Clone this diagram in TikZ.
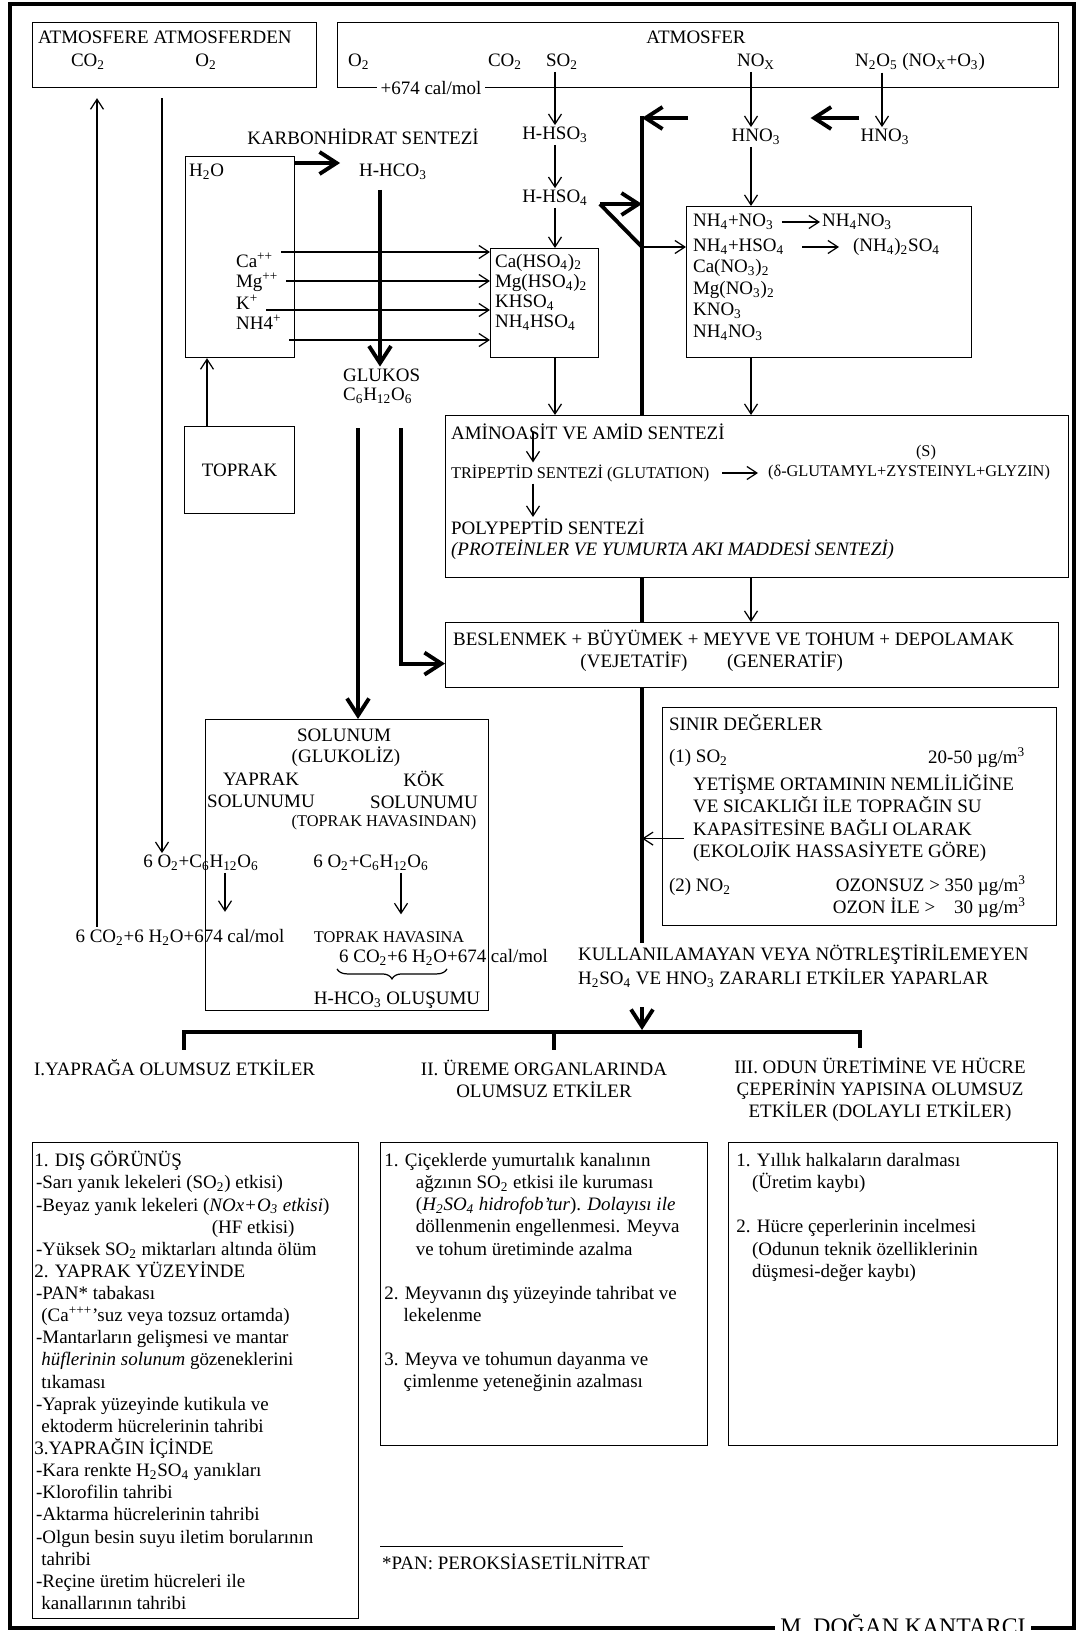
\documentclass[tikz,border=0pt]{standalone}
\usepackage{fontspec}
\setmainfont{Liberation Serif}
\usetikzlibrary{arrows.meta, positioning, decorations.pathreplacing}
\newcommand\sub[1]{\textsubscript{#1}}
\newcommand\sups[1]{\textsuperscript{#1}}
\newcommand\smallfont{\fontsize{9.3}{11}\selectfont}

\begin{document}
\begin{tikzpicture}[
    x=0.02cm, y=-0.02cm,
    every node/.append style={font=\fontsize{10.8}{12.6}\selectfont},
    txt/.style={inner sep=1pt},
    lbl/.style={inner sep=1pt, font=\smallfont},
    box/.style={draw, line width=0.7pt, inner sep=0pt, anchor=north west},
    arr/.style={-{Straight Barb[length=2mm,width=2.6mm]}, line width=0.7pt},
    tarr/.style={-{Straight Barb[length=3.4mm,width=4.4mm]}, line width=2.2pt},
    tline/.style={line width=2.2pt}
  ]
  \useasboundingbox (0,0) rectangle (1078,1631);
  \draw[tline] (10,4) rectangle (1074,1628);

  % column positions
  \coordinate (xup) at (97,0);
  \coordinate (xdn) at (162,0);
  \coordinate (xtop) at (207,0);
  \coordinate (xl) at (225,0);
  \coordinate (xsol) at (358,0);
  \coordinate (xglu) at (380,0);
  \coordinate (xbes) at (401,0);
  \coordinate (xr) at (401,0);
  \coordinate (xam) at (533,0);
  \coordinate (xso) at (555,0);
  \coordinate (xmid) at (554,0);
  \coordinate (xno) at (751,0);
  \coordinate (xnn) at (882,0);
  \coordinate (spinetop) at (642,118);
  \coordinate (stubR) at (688,118);
  \coordinate (spinemid) at (642,247);
  \coordinate (spinebot) at (642,943);
  \coordinate (busL) at (184,1032);
  \coordinate (busR) at (860,1032);

  % atmosphere boxes
  \node[box, minimum width=5.68cm, minimum height=1.3cm] (atmL) at (32,22) {};
  \node[txt, anchor=west] (atmLt) at (36,37) {ATMOSFERE ATMOSFERDEN};
  \node[txt] (co2a) at (88,62) {CO\sub2};
  \node[txt] (o2a) at (206,62) {O\sub2};

  \node[box, minimum width=14.42cm, minimum height=1.3cm] (atmR) at (337,22) {};
  \node[txt] (atmRt) at (696,37) {ATMOSFER};
  \node[txt, anchor=west] (o2b) at (346,62) {O\sub2};
  \node[txt] (co2b) at (505,62) {CO\sub2};
  \node[txt] (so2) at (562,62) {SO\sub2};
  \node[txt] (nox) at (756,62) {NO\sub{X}};
  \node[txt] (n2o5) at (920,62) {N\sub2O\sub5 (NO\sub{X}+O\sub3)};
  \node[txt, fill=white, inner xsep=2pt] (cal) at (431,88) {+674 cal/mol};

  % carbohydrate side
  \node[txt] (karb) at (363,137) {KARBONHİDRAT SENTEZİ};
  \node[box, minimum width=2.18cm, minimum height=4.02cm] (h2o) at (185,156) {};
  \node[txt, anchor=west] (h2ot) at (187,172) {H\sub2O};
  \node[txt] (hhco3) at (393,172) {H-HCO\sub3};
  \node[box, minimum width=2.2cm, minimum height=1.74cm] (toprak) at (184,426) {TOPRAK};
  \node[txt, anchor=west, align=left, font=\fontsize{10.8}{10.8}\selectfont] (glukos) at (341,386)
    {GLUKOS\\C\sub6H\sub{12}O\sub6};

  % sulphur side
  \node[txt] (hhso3) at (555,135) {H-HSO\sub3};
  \node[txt] (hhso4) at (555,198) {H-HSO\sub4};
  \node[box, minimum width=2.16cm, minimum height=2.18cm] (hso4box) at (490,248) {};
  \node[txt, anchor=west, align=left, font=\fontsize{10.8}{11.4}\selectfont] (hso4t) at (493,292)
    {Ca(HSO\sub4)\sub2\\Mg(HSO\sub4)\sub2\\KHSO\sub4\\NH\sub4HSO\sub4};

  \foreach \nm/\lab/\ly/\ay in {ca/Ca\sups{++}/260/252, mg/Mg\sups{++}/282/281,
                                k/K\sups{+}/302/310, nh/NH4\sups{+}/322/340}{
    \node[txt, anchor=west] (\nm) at (234,\ly) {\lab};
    \draw[arr] ([xshift=0.12cm]\nm.east |- 0,\ay) -- (hso4box.west |- 0,\ay);
  }

  % nitrogen side
  \node[txt] (hno3a) at (756,137) {HNO\sub3};
  \node[txt] (hno3b) at (885,137) {HNO\sub3};
  \node[box, minimum width=5.7cm, minimum height=3.02cm] (no3box) at (686,206) {};
  \node[txt, anchor=west] (r1a) at (691,222) {NH\sub4+NO\sub3};
  \node[txt, anchor=west] (r1b) at (820,222) {NH\sub4NO\sub3};
  \node[txt, anchor=west] (r2a) at (691,247) {NH\sub4+HSO\sub4};
  \node[txt, anchor=west] (r2b) at (851,247) {(NH\sub4)\sub2SO\sub4};
  \node[txt, anchor=west, align=left, font=\fontsize{10.8}{12.3}\selectfont] (r3) at (691,300)
    {Ca(NO\sub3)\sub2\\Mg(NO\sub3)\sub2\\KNO\sub3\\NH\sub4NO\sub3};
  \draw[arr] ([xshift=0.12cm]r1a.east) -- (r1b.west);
  \draw[arr] ([xshift=0.32cm]r2a.east) -- ([xshift=-0.24cm]r2b.west);

  % synthesis boxes
  \node[box, minimum width=12.46cm, minimum height=3.24cm] (amino) at (445,415) {};
  \node[txt, anchor=west] (aminot) at (449,432) {AMİNOASİT VE AMİD SENTEZİ};
  \node[lbl] (sulf) at (926,453) {(S)};
  \node[lbl, anchor=west] (tripep) at (449,473) {TRİPEPTİD SENTEZİ (GLUTATION)};
  \node[lbl, anchor=west] (delta) at (766,473) {(δ-GLUTAMYL+ZYSTEINYL+GLYZIN)};
  \node[txt, anchor=west] (polyp) at (449,527) {POLYPEPTİD SENTEZİ};
  \node[txt, anchor=west] (prot) at (449,550) {\itshape (PROTEİNLER VE YUMURTA AKI MADDESİ SENTEZİ)};
  \draw[arr] (aminot.center -| xam) -- (tripep.north -| xam);
  \draw[arr] (tripep.south -| xam) -- (polyp.north -| xam);
  \draw[arr] ([xshift=0.22cm]tripep.east) -- ([xshift=-0.16cm]delta.west);

  \node[box, minimum width=12.26cm, minimum height=1.3cm] (besl) at (445,622) {};
  \node[txt, anchor=west] (beslt) at (451,638) {BESLENMEK + BÜYÜMEK + MEYVE VE TOHUM + DEPOLAMAK};
  \node[txt] (vej) at (634,662) {(VEJETATİF)};
  \node[txt] (gen) at (785,662) {(GENERATİF)};

  % respiration box
  \node[box, minimum width=5.66cm, minimum height=5.82cm] (solunum) at (205,719) {};
  \node[txt] (solt) at (344,735) {SOLUNUM};
  \node[txt] (glik) at (346,757) {(GLUKOLİZ)};
  \node[txt, align=center] (yap) at (261,790) {YAPRAK\\SOLUNUMU};
  \node[txt, align=center] (kok) at (424,790) {KÖK\\SOLUNUMU};
  \node[lbl] (thav) at (384,823) {(TOPRAK HAVASINDAN)};
  \node[txt] (o2L) at (201,863) {6 O\sub2+C\sub6H\sub{12}O\sub6};
  \node[txt] (o2R) at (371,863) {6 O\sub2+C\sub6H\sub{12}O\sub6};
  \node[txt] (co2L) at (180,937) {6 CO\sub2+6 H\sub2O+674 cal/mol};
  \node[lbl] (thava) at (389,937) {TOPRAK HAVASINA};
  \node[txt, anchor=west] (co2R) at (337,957) {6 CO\sub2+6 H\sub2O+674 cal/mol};
  \node[txt] (hhoc) at (397,1000) {H-HCO\sub3 OLUŞUMU};
  \draw[arr, shorten >=0.3cm] (o2L.south -| xl) -- (co2L.north -| xl);
  \draw[arr, shorten >=0.3cm] (o2R.south -| xr) -- (thava.north -| xr);
  \draw[decorate, decoration={brace, mirror, amplitude=0.2cm}, line width=0.7pt]
    ([yshift=-1pt]co2R.south west) -- ([xshift=2.2cm, yshift=-1pt]co2R.south west);

  % limit values
  \node[box, minimum width=7.88cm, minimum height=4.36cm] (sinir) at (662,707) {};
  \node[txt, anchor=west] (sint) at (667,723) {SINIR DEĞERLER};
  \node[txt, anchor=west] (so2l) at (667,758) {(1) SO\sub2};
  \node[txt, anchor=west] (so2v) at (926,758) {20-50 µg/m\sups3};
  \node[txt, anchor=west, align=left] (yet) at (691,818)
    {YETİŞME ORTAMININ NEMLİLİĞİNE\\VE SICAKLIĞI İLE TOPRAĞIN SU\\KAPASİTESİNE BAĞLI OLARAK\\(EKOLOJİK HASSASİYETE GÖRE)};
  \node[txt, anchor=west] (no2l) at (667,887) {(2) NO\sub2};
  \node[txt, anchor=east, align=right] (no2v) at (1028,897)
    {OZONSUZ > 350 µg/m\sups3\\OZON İLE >\quad 30 µg/m\sups3};

  \node[txt, anchor=west, align=left, font=\fontsize{10.8}{13.5}\selectfont] (kull) at (576,966)
    {KULLANILAMAYAN VEYA NÖTRLEŞTİRİLEMEYEN\\H\sub2SO\sub4 VE HNO\sub3 ZARARLI ETKİLER YAPARLAR};

  % connectors
  \draw[arr] (co2L.north -| xup) -- ([yshift=-0.2cm]atmL.south -| xup);
  \draw[arr] ([yshift=-0.2cm]atmL.south -| xdn) -- (o2L.north -| xdn);
  \draw[tarr] ([yshift=-0.14cm]h2o.north east) coordinate (hn) -- ([xshift=-0.34cm]hhco3.west |- hn);
  \draw[tarr] ([yshift=-0.16cm]hhco3.south -| xglu) -- (glukos.north -| xglu);
  \draw[arr] (toprak.north -| xtop) -- (h2o.south -| xtop);
  \draw[tarr] ([yshift=-0.46cm]glukos.south -| xsol) -- (solunum.north -| xsol);
  \draw[tarr] ([yshift=-0.46cm]glukos.south -| xbes) |- ([yshift=-0.17cm]besl.west);

  \draw[arr] (so2.south -| xso) -- (hhso3.north -| xso);
  \draw[arr] (hhso3.south -| xso) -- (hhso4.north -| xso);
  \draw[arr] (hhso4.south -| xso) -- (hso4box.north -| xso);
  \draw[arr] (hso4box.south -| xso) -- (amino.north -| xso);
  \draw[arr] (nox.south -| xno) -- (hno3a.north -| xno);
  \draw[arr] (hno3a.south -| xno) -- (no3box.north -| xno);
  \draw[arr] (no3box.south -| xno) -- (amino.north -| xno);
  \draw[arr] (amino.south -| xno) -- (besl.north -| xno);
  \draw[arr] (n2o5.south -| xnn) -- (hno3b.north -| xnn);
  \draw[tarr] ([yshift=0.38cm]hno3b.west) coordinate (hb) -- ([xshift=-0.96cm]hb);

  % thick acid spine
  \draw[tarr] (stubR) -- (spinetop);
  \draw[tline] ([yshift=1.1pt]spinetop) -- (spinetop |- amino.north);
  \draw[tline] (spinetop |- amino.south) -- (spinetop |- besl.north);
  \draw[tline] (spinetop |- besl.south) -- (spinebot);
  \draw[tarr] ([xshift=0.2cm, yshift=-0.12cm]hhso4.east) coordinate (h4e) -- (h4e -| spinetop);
  \draw[tline] (h4e) -- (spinemid);
  \draw[arr] (spinemid) -- (spinemid -| no3box.west);
  \draw[arr] ([xshift=0.44cm, yshift=-0.44cm]sinir.west) coordinate (sw) -- (sw -| spinetop);

  % effects
  \node[txt, anchor=west] (ef1) at (32,1068) {I.YAPRAĞA OLUMSUZ ETKİLER};
  \node[txt, align=center] (ef2) at (544,1079) {II. ÜREME ORGANLARINDA\\OLUMSUZ ETKİLER};
  \node[txt, align=center] (ef3) at (880,1090) {III. ODUN ÜRETİMİNE VE HÜCRE\\ÇEPERİNİN YAPISINA OLUMSUZ\\ETKİLER (DOLAYLI ETKİLER)};
  \draw[tarr] ([yshift=-0.36cm]kull.south -| spinetop) -- ([yshift=0.04cm]spinetop |- busL);
  \draw[tline] ([yshift=0.16cm]busL |- ef1.north) -- (busL) -- (busR) -- ([yshift=0.16cm]busR |- ef3.north);
  \draw[tline] (busL -| xmid) -- ([yshift=0.16cm]xmid |- ef2.north);

  \node[box, minimum width=6.52cm, minimum height=9.52cm] (effL) at (32,1142) {};
  \node[box, minimum width=6.54cm, minimum height=6.06cm] (effM) at (380,1142) {};
  \node[box, minimum width=6.58cm, minimum height=6.06cm] (effR) at (728,1142) {};

  \node[txt, inner sep=0pt, anchor=north west, align=left, below right=0.18cm and 0.04cm of effL.north west] (effLt) {%
    1. DIŞ GÖRÜNÜŞ\\
    \hspace*{1pt}-Sarı yanık lekeleri (SO\sub2) etkisi)\\
    \hspace*{1pt}-Beyaz yanık lekeleri (\textit{NOx+O\sub3 etkisi})\\
    \hspace*{101pt}(HF etkisi)\\
    \hspace*{1pt}-Yüksek SO\sub2 miktarları altında ölüm\\
    2. YAPRAK YÜZEYİNDE\\
    \hspace*{1pt}-PAN* tabakası\\
    \hspace*{4pt}(Ca\sups{+++}'suz veya tozsuz ortamda)\\
    \hspace*{1pt}-Mantarların gelişmesi ve mantar\\
    \hspace*{4pt}\textit{hüflerinin solunum} gözeneklerini\\
    \hspace*{4pt}tıkaması\\
    \hspace*{1pt}-Yaprak yüzeyinde kutikula ve\\
    \hspace*{4pt}ektoderm hücrelerinin tahribi\\
    3.YAPRAĞIN İÇİNDE\\
    \hspace*{1pt}-Kara renkte H\sub2SO\sub4 yanıkları\\
    \hspace*{1pt}-Klorofilin tahribi\\
    \hspace*{1pt}-Aktarma hücrelerinin tahribi\\
    \hspace*{1pt}-Olgun besin suyu iletim borularının\\
    \hspace*{4pt}tahribi\\
    \hspace*{1pt}-Reçine üretim hücreleri ile\\
    \hspace*{4pt}kanallarının tahribi};

  \node[txt, inner sep=0pt, anchor=north west, align=left, below right=0.22cm and 0.08cm of effM.north west] (effMt) {%
    1. Çiçeklerde yumurtalık kanalının\\
    \hspace*{18pt}ağzının SO\sub2 etkisi ile kuruması\\
    \hspace*{18pt}(\textit{H\sub2SO\sub4 hidrofob'tur}). \textit{Dolayısı ile}\\
    \hspace*{18pt}döllenmenin engellenmesi. Meyva\\
    \hspace*{18pt}ve tohum üretiminde azalma\\[12.6pt]
    2. Meyvanın dış yüzeyinde tahribat ve\\
    \hspace*{11pt}lekelenme\\[12.6pt]
    3. Meyva ve tohumun dayanma ve\\
    \hspace*{11pt}çimlenme yeteneğinin azalması};

  \node[txt, inner sep=0pt, anchor=north west, align=left, below right=0.22cm and 0.16cm of effR.north west] (effRt) {%
    1. Yıllık halkaların daralması\\
    \hspace*{9pt}(Üretim kaybı)\\[12.6pt]
    2. Hücre çeperlerinin incelmesi\\
    \hspace*{9pt}(Odunun teknik özelliklerinin\\
    \hspace*{9pt}düşmesi-değer kaybı)};

  % footnote and signature
  \node[txt, anchor=west] (pan) at (380,1562) {*PAN: PEROKSİASETİLNİTRAT};
  \draw[line width=0.6pt] ([yshift=0.1cm]pan.north west) -- ++(4.86cm,0);
  \node[txt, fill=white, inner xsep=3pt, anchor=base, font=\fontsize{13.5}{15}\selectfont] (author) at (903,1634) {M. DOĞAN KANTARCI};
\end{tikzpicture}
\end{document}
